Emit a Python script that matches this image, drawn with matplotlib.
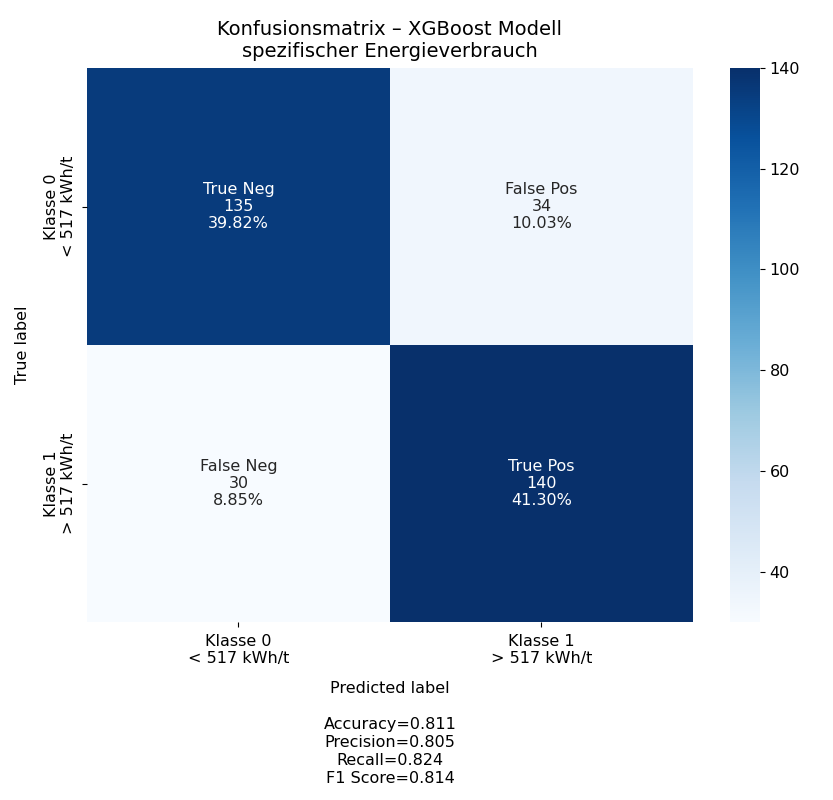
import numpy as np
import matplotlib
matplotlib.use("Agg")
import matplotlib.pyplot as plt
import seaborn as sns

# ----------------------------
# Data
# ----------------------------
cm_values = [[135, 34], [30, 140]]
group_names = ["True Neg", "False Pos", "False Neg", "True Pos"]
group_percent = ["39.82%", "10.03%", "8.85%", "41.30%"]
class_labels = ["Klasse 0\n< 517 kWh/t", "Klasse 1\n> 517 kWh/t"]
metrics_text = "Accuracy=0.811\nPrecision=0.805\nRecall=0.824\nF1 Score=0.814"

cm = np.array(cm_values)
counts = cm.flatten()
annot = [f"{n}\n{c}\n{p}" for n, c, p in zip(group_names, counts, group_percent)]
annot = np.array(annot).reshape(2, 2)

# ----------------------------
# Plot
# ----------------------------
fs = 11.5
fig = plt.figure(figsize=(8.33, 8.0), dpi=100)
ax = fig.add_axes([0.1044, 0.2225, 0.7275, 0.6925])
cax = fig.add_axes([0.876, 0.2225, 0.036, 0.6925])

sns.heatmap(cm, annot=annot, fmt="", cmap="Blues", ax=ax, cbar_ax=cax,
            xticklabels=class_labels, yticklabels=class_labels,
            annot_kws={"fontsize": fs})

ax.set_title("Konfusionsmatrix – XGBoost Modell\nspezifischer Energieverbrauch",
             fontsize=14, pad=8)
ax.set_ylabel("True label", fontsize=fs, labelpad=10)
ax.set_xlabel("Predicted label\n\n" + metrics_text, fontsize=fs, labelpad=11,
              linespacing=1.25)
ax.tick_params(axis="both", labelsize=fs)
plt.setp(ax.get_yticklabels(), rotation=90, va="center", ha="center",
         rotation_mode="anchor")
plt.setp(ax.get_xticklabels(), rotation=0)
ax.tick_params(axis="y", pad=16)
ax.tick_params(axis="x", pad=5)
cax.tick_params(labelsize=fs)

fig.savefig("out.png", dpi=100)
